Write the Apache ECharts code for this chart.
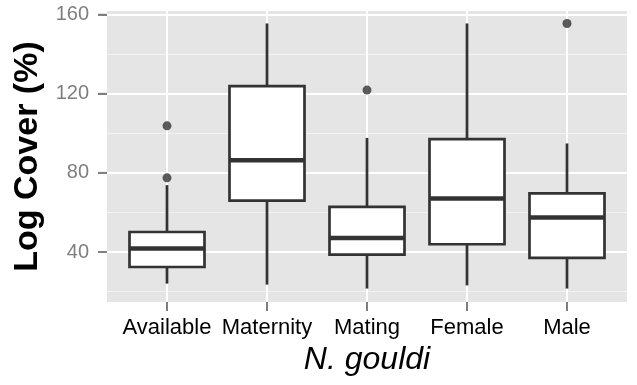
<!DOCTYPE html>
<html>
<head>
<meta charset="utf-8">
<script src="https://cdn.jsdelivr.net/npm/echarts@6/dist/echarts.min.js"></script>
<style>
  html, body { margin: 0; padding: 0; background: #ffffff; }
  #chart { width: 637px; height: 385px; }
</style>
</head>
<body>
<div id="chart"></div>
<script>
// Groups along the x axis
const categories = ['Available', 'Maternity', 'Mating', 'Female', 'Male'];

// Five-number summaries per group (log cover, %)
const whiskerLow  = [24.0, 23.5, 21.5, 23.1, 21.5];
const quartile1   = [32.4, 66.0, 38.7, 43.9, 37.0];
const medians     = [41.7, 86.4, 47.1, 67.0, 57.4];
const quartile3   = [50.1, 123.9, 62.8, 97.1, 69.6];
const whiskerHigh = [73.8, 155.6, 97.7, 155.6, 94.9];

// Outlying observations: [group index, value]
const outlierGroup = [0, 0, 2, 4];
const outlierValue = [103.8, 77.5, 121.9, 155.6];

// Axis ticks
const yMajorTicks = [40, 80, 120, 160];
const yMinorTicks = [20, 60, 100, 140];
const yMin = 14.7;
const yMax = 161.9;
const xMin = 0.4;
const xMax = 5.6;

const FONT = '"Liberation Sans", Arial, sans-serif';
const INK = '#333333';
const TICK = '#7F7F7F';
const BOX_WIDTH = 0.75;
const TICK_LEN = 9;

const xPositions = categories.map((_, i) => i + 1);

const boxRows = categories.map((_, i) => [
  i + 1, whiskerLow[i], quartile1[i], medians[i], quartile3[i], whiskerHigh[i]
]);
const outlierRows = outlierGroup.map((g, k) => [g + 1, outlierValue[k]]);

function renderBox(params, api) {
  const x = api.value(0);
  const lo = api.coord([x, api.value(1)]);
  const q1 = api.coord([x, api.value(2)]);
  const md = api.coord([x, api.value(3)]);
  const q3 = api.coord([x, api.value(4)]);
  const hi = api.coord([x, api.value(5)]);
  const half = api.size([BOX_WIDTH, 0])[0] / 2;
  const line = { stroke: INK, lineWidth: 2.7 };
  return {
    type: 'group',
    children: [
      { type: 'line', shape: { x1: lo[0], y1: lo[1], x2: q1[0], y2: q1[1] }, style: line },
      { type: 'line', shape: { x1: hi[0], y1: hi[1], x2: q3[0], y2: q3[1] }, style: line },
      {
        type: 'rect',
        shape: { x: q3[0] - half, y: q3[1], width: half * 2, height: q1[1] - q3[1] },
        style: { fill: '#ffffff', stroke: INK, lineWidth: 2.7 }
      },
      {
        type: 'line',
        shape: { x1: md[0] - half, y1: md[1], x2: md[0] + half, y2: md[1] },
        style: { stroke: INK, lineWidth: 4.5 }
      }
    ]
  };
}

// Outward tick marks on the panel edges (bottom for x, left for y)
function renderXTick(params, api) {
  const p = api.coord([api.value(0), yMin]);
  return { type: 'line', shape: { x1: p[0], y1: p[1], x2: p[0], y2: p[1] + TICK_LEN },
           style: { stroke: TICK, lineWidth: 2 } };
}
function renderYTick(params, api) {
  const p = api.coord([xMin, api.value(1)]);
  return { type: 'line', shape: { x1: p[0] - TICK_LEN, y1: p[1], x2: p[0], y2: p[1] },
           style: { stroke: TICK, lineWidth: 2 } };
}

const chart = echarts.init(document.getElementById('chart'));

chart.setOption({
  animation: false,
  grid: {
    left: 107, right: 10, top: 11, bottom: 83,
    show: true, backgroundColor: '#E5E5E5', borderWidth: 0
  },
  xAxis: {
    type: 'value',
    min: xMin,
    max: xMax,
    name: 'N. gouldi',
    nameLocation: 'middle',
    nameGap: 34,
    nameTextStyle: { fontFamily: FONT, fontSize: 32, fontStyle: 'italic', color: '#000000' },
    axisLine: { show: false },
    axisTick: {
      show: true, length: TICK_LEN, customValues: xPositions,
      lineStyle: { color: TICK, width: 2 }
    },
    axisLabel: {
      show: true, customValues: xPositions, margin: 15,
      fontFamily: FONT, fontSize: 22, color: '#000000',
      formatter: (v) => categories[Math.round(v) - 1] || ''
    },
    splitLine: { show: true, lineStyle: { color: '#ffffff', width: 2 } }
  },
  yAxis: [
    {
      type: 'value',
      min: yMin,
      max: yMax,
      name: 'Log Cover (%)',
      nameLocation: 'middle',
      nameGap: 54,
      nameRotate: 90,
      nameTextStyle: { fontFamily: FONT, fontSize: 34, fontWeight: 'bold', color: '#000000' },
      axisLine: { show: false },
      axisTick: {
        show: true, length: TICK_LEN, customValues: yMajorTicks,
        lineStyle: { color: TICK, width: 2 }
      },
      axisLabel: {
        show: true, customValues: yMajorTicks, margin: 18,
        fontFamily: FONT, fontSize: 20, color: TICK
      },
      splitLine: { show: true, lineStyle: { color: '#ffffff', width: 2 } }
    },
    {
      type: 'value',
      min: yMin,
      max: yMax,
      position: 'left',
      axisLine: { show: false },
      axisTick: { show: false, customValues: yMinorTicks },
      axisLabel: { show: false, customValues: yMinorTicks },
      splitLine: { show: true, lineStyle: { color: '#F2F2F2', width: 1 } }
    }
  ],
  series: [
    {
      type: 'custom',
      renderItem: renderXTick,
      data: xPositions.map((v) => [v, yMin]),
      clip: false,
      silent: true,
      z: 1
    },
    {
      type: 'custom',
      renderItem: renderYTick,
      data: yMajorTicks.map((v) => [xMin, v]),
      clip: false,
      silent: true,
      z: 1
    },
    {
      type: 'custom',
      renderItem: renderBox,
      data: boxRows,
      encode: { x: 0, y: [1, 2, 3, 4, 5] },
      z: 3
    },
    {
      type: 'scatter',
      data: outlierRows,
      symbol: 'circle',
      symbolSize: 9,
      itemStyle: { color: INK },
      z: 4
    }
  ]
});
</script>
</body>
</html>
